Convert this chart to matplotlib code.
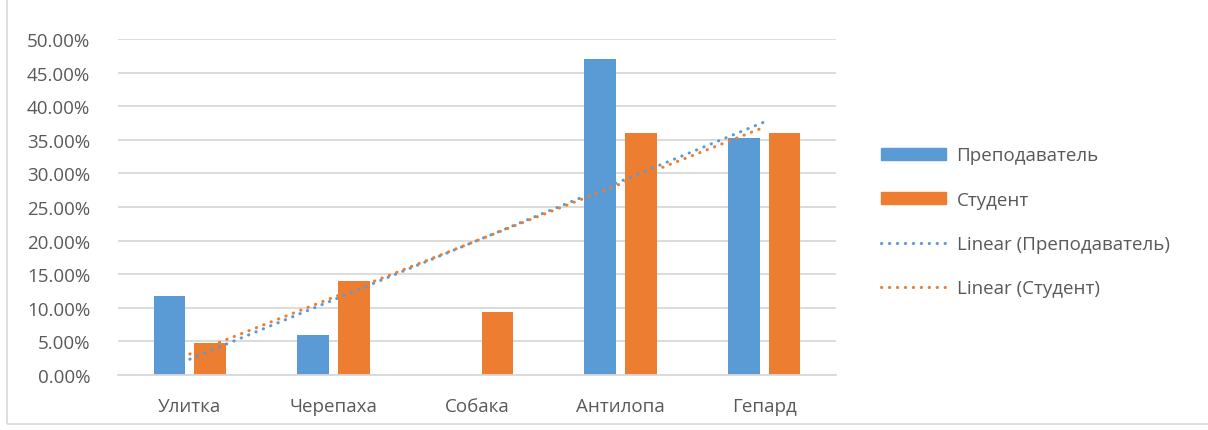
import numpy as np
import matplotlib.pyplot as plt
from matplotlib.patches import Patch, Rectangle
from matplotlib.lines import Line2D
from matplotlib.ticker import PercentFormatter

# data
categories = ['Улитка', 'Черепаха', 'Собака', 'Антилопа', 'Гепард']
teacher = [11.76, 5.88, 0.0, 47.06, 35.29]
student = [4.69, 14.06, 9.38, 35.94, 35.94]

blue = '#5B9BD5'
orange = '#ED7D31'
text_col = '#595959'
dots = (0, (0.1, 2.5))

plt.rcParams['font.family'] = ['Open Sans', 'DejaVu Sans']

fig = plt.figure(figsize=(12.08, 4.31), dpi=100)
ax = fig.add_axes([118 / 1208, 55 / 431, 718 / 1208, 336 / 431])

x = np.arange(len(categories))
w = 0.22
gap = 0.065
ax.bar(x - (w + gap) / 2, teacher, w, color=blue, zorder=2)
ax.bar(x + (w + gap) / 2, student, w, color=orange, zorder=2)

# linear trendlines (least squares over category index)
for vals, col in ((teacher, blue), (student, orange)):
    k, b = np.polyfit(x, vals, 1)
    ax.plot(x, k * x + b, color=col, lw=2.2, linestyle=dots,
            dash_capstyle='round', zorder=3)

ax.set_xlim(-0.5, len(categories) - 0.5)
ax.set_ylim(0, 50)
ax.set_yticks(np.arange(0, 51, 5))
ax.yaxis.set_major_formatter(PercentFormatter(decimals=2))
ax.grid(axis='y', color='#D9D9D9', lw=1.3, zorder=0)
ax.set_xticks(x)
ax.set_xticklabels(categories)
for s in ax.spines.values():
    s.set_visible(False)
ax.spines['bottom'].set_visible(True)
ax.spines['bottom'].set_color('#D9D9D9')
ax.spines['bottom'].set_linewidth(1.3)
ax.tick_params(length=0, labelsize=13.5, colors=text_col)
ax.tick_params(axis='x', pad=16)
ax.tick_params(axis='y', pad=20)

handles = [
    Patch(color=blue, label='Преподаватель'),
    Patch(color=orange, label='Студент'),
    Line2D([], [], color=blue, lw=2.2, linestyle=dots, dash_capstyle='round',
           label='Linear (Преподаватель)'),
    Line2D([], [], color=orange, lw=2.2, linestyle=dots, dash_capstyle='round',
           label='Linear (Студент)'),
]
leg = fig.legend(handles=handles, loc='center left', bbox_to_anchor=(0.715, 0.483),
                 frameon=False, fontsize=13.5, labelcolor=text_col,
                 handlelength=3.5, handleheight=0.65, labelspacing=1.4, handletextpad=0.55)

# chart area border
fig.patches.append(Rectangle((7 / 1208, 6 / 431), 1, 1, transform=fig.transFigure,
                             fill=False, edgecolor='#D9D9D9', lw=1.2))

fig.savefig('out.png', dpi=100)
